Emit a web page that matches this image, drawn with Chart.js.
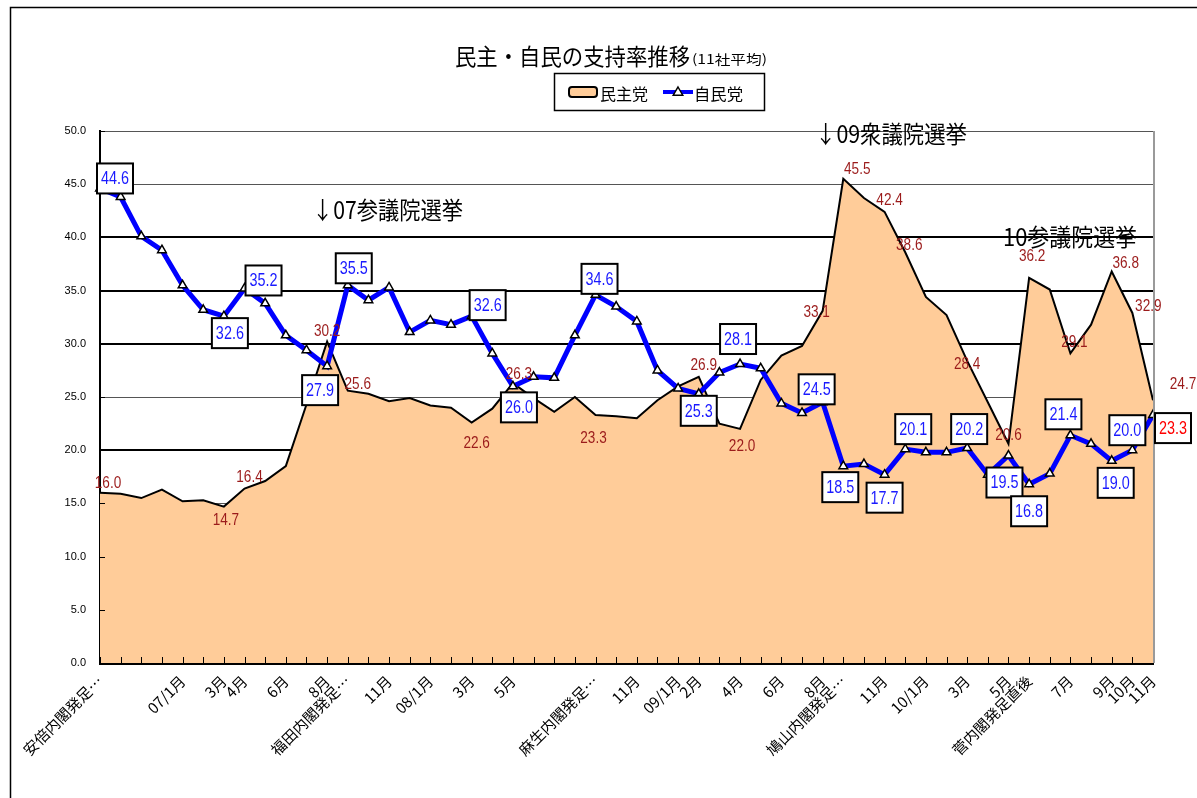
<!DOCTYPE html>
<html><head><meta charset="utf-8">
<script src="https://cdn.jsdelivr.net/npm/chart.js@4/dist/chart.umd.min.js"></script>
<style>html,body{margin:0;padding:0;background:#fff;}#wrap{width:1197px;height:798px;position:relative;}</style>
</head><body><div id="wrap"><canvas id="c" width="1197" height="798"></canvas></div>
<script>
// ---------- DATA ----------
const categories = ['安倍内閣発足…','10月','11月','12月','07/1月','2月','3月','4月','5月','6月','7月','8月',
  '福田内閣発足…','10月','11月','12月','08/1月','2月','3月','4月','5月','6月','7月','8月',
  '麻生内閣発足…','10月','11月','12月','09/1月','2月','3月','4月','5月','6月','7月','8月',
  '鳩山内閣発足…','10月','11月','12月','10/1月','2月','3月','4月','5月','菅内閣発足直後','6月','7月','8月','9月','10月','11月'];
const shownTickIndexes = [0,4,6,7,9,11,12,14,16,18,20,24,26,28,29,31,33,35,36,38,40,42,44,45,47,49,50,51];
const seriesNames = ['民主党','自民党'];
const dpjValues = [16.0,15.9,15.5,16.3,15.2,15.3,14.7,16.4,17.1,18.5,24.3,30.2,25.6,25.3,24.6,24.9,24.2,24.0,22.6,23.9,26.3,24.9,23.6,25.0,23.3,23.2,23.0,24.7,26.0,26.9,22.5,22.0,26.6,28.9,29.8,33.1,45.5,43.7,42.4,38.6,34.4,32.7,28.4,24.5,20.6,36.2,35.1,29.1,31.8,36.8,32.9,24.7];
const ldpValues = [44.6,43.8,40.1,38.8,35.5,33.2,32.6,35.2,33.8,30.8,29.4,27.9,35.5,34.1,35.3,31.1,32.2,31.8,32.6,29.1,26.0,26.9,26.8,30.8,34.6,33.5,32.1,27.5,25.8,25.3,27.3,28.1,27.7,24.4,23.5,24.5,18.5,18.7,17.7,20.1,19.8,19.8,20.2,17.7,19.5,16.8,17.8,21.4,20.6,19.0,20.0,23.3];
const yMin = 0, yMax = 50, yStep = 5;
const titleText = '民主・自民の支持率推移';
const subtitleText = '(11社平均)';
const annotationTexts = ['↓07参議院選挙','↓09衆議院選挙','10参議院選挙'];

// ---------- STYLE (label placement offsets from the point, px) ----------
const dpjLabelOffsets = {0:[8,-10],6:[2,13],7:[5,-12],11:[0,-11],12:[10,-7],18:[5,20],20:[6,-10],24:[-2,22],29:[5,-12],31:[2,16],35:[-6,0],36:[14,-11],38:[5,-13],39:[4,-8],42:[0,2],44:[0,-10],45:[3,-23],47:[4,-12],49:[14,-9],50:[16,-8],51:[30,-17]};
const ldpLabelOffsets = {0:[15,-10],6:[6,17],7:[19,-8],11:[-7,24],12:[6,-17],18:[16,-11],20:[6,21],24:[4,-16],29:[0,17],31:[-2,-25],35:[-6,-13],36:[-3,21],38:[0,23],39:[8,-20],42:[2,-19],44:[-4,27],45:[0,27],47:[-7,-21],49:[4,22],50:[-5,-20],51:[20,13]};
const annotationBoxes = [{x:312,y:210,w:151},{x:815,y:134,w:152},{x:1003,y:237,w:134}];

const JP = "'Noto Sans CJK JP','Noto Sans',sans-serif";
const NUM = "'Liberation Sans',Arial,sans-serif";

function fitText(ctx, text, x, y, w, font, color){
  ctx.save();
  ctx.font = font; ctx.fillStyle = color || '#000';
  ctx.textAlign='left'; ctx.textBaseline='middle';
  const m = ctx.measureText(text).width;
  ctx.translate(x, y); ctx.scale(w/m, 1);
  ctx.fillText(text, 0, 0);
  ctx.restore();
}
function drawNum(ctx, text, cx, cy, color, size, box){
  ctx.save();
  if (box){
    ctx.fillStyle='#fff'; ctx.fillRect(cx-18, cy-15, 36, 30);
    ctx.strokeStyle='#000'; ctx.lineWidth=2; ctx.strokeRect(cx-18, cy-15, 36, 30);
  }
  ctx.font = size+'px '+NUM;
  ctx.translate(cx, cy); ctx.scale(0.8, 1);
  ctx.fillStyle=color; ctx.textAlign='center'; ctx.textBaseline='middle';
  ctx.fillText(text, 0, 1);
  ctx.restore();
}
function triangle(ctx, x, y, r){
  ctx.beginPath();
  ctx.moveTo(x, y - r);
  ctx.lineTo(x + r*0.95, y + r*0.65);
  ctx.lineTo(x - r*0.95, y + r*0.65);
  ctx.closePath();
  ctx.fillStyle='#fff'; ctx.fill();
  ctx.strokeStyle='#000'; ctx.lineWidth=1.5; ctx.stroke();
}

const decor = {
  id:'decor',
  beforeDraw(chart){
    const ctx = chart.ctx; ctx.save(); ctx.fillStyle='#fff'; ctx.fillRect(0,0,chart.width,chart.height); ctx.restore();
  },
  afterDatasetsDraw(chart){
    const ctx = chart.ctx, a = chart.chartArea, xs = chart.scales.x, ys = chart.scales.y;
    ctx.save();
    ctx.strokeStyle='#000'; ctx.lineWidth=1;
    for (let i=0;i<categories.length;i++){
      const x = Math.round(xs.getPixelForTick(i))+0.5;
      ctx.beginPath(); ctx.moveTo(x, a.bottom-6); ctx.lineTo(x, a.bottom); ctx.stroke();
    }
    for (let v=yMin; v<=yMax; v+=yStep){
      const y = Math.round(ys.getPixelForValue(v))+0.5;
      ctx.beginPath(); ctx.moveTo(a.left, y); ctx.lineTo(a.left+5, y); ctx.stroke();
    }
    ctx.strokeStyle='#9a9a9a'; ctx.lineWidth=2;
    ctx.beginPath(); ctx.moveTo(a.right+1, a.top); ctx.lineTo(a.right+1, a.bottom); ctx.stroke();
    ctx.restore();
    const mLdp = chart.getDatasetMeta(0).data, mDpj = chart.getDatasetMeta(1).data;
    Object.keys(dpjLabelOffsets).forEach(k=>{
      const i=+k, p=mDpj[i], o=dpjLabelOffsets[k];
      drawNum(ctx, dpjValues[i].toFixed(1), p.x+o[0], p.y+o[1], '#9b1b1b', 17, false);
    });
    Object.keys(ldpLabelOffsets).forEach(k=>{
      const i=+k, p=mLdp[i], o=ldpLabelOffsets[k];
      const last = i===ldpValues.length-1;
      drawNum(ctx, ldpValues[i].toFixed(1), p.x+o[0], p.y+o[1], last?'#ff0000':'#1a1aff', 18, true);
    });
  },
  afterDraw(chart){
    const ctx = chart.ctx;
    ctx.save();
    ctx.strokeStyle='#000'; ctx.lineWidth=1.5;
    ctx.strokeRect(10.5, 7.5, 1400, 1000);
    fitText(ctx, titleText, 455, 56, 235, '23px '+JP, '#000');
    fitText(ctx, subtitleText, 692, 59, 75, '13px '+JP, '#000');
    ctx.lineWidth=1.5; ctx.strokeStyle='#000';
    ctx.strokeRect(554.5, 73.5, 210, 37);
    ctx.beginPath(); ctx.roundRect(569, 87, 28, 10, 3);
    ctx.fillStyle='#FFCC99'; ctx.fill(); ctx.lineWidth=2; ctx.stroke();
    fitText(ctx, seriesNames[0], 600, 94, 48, '16px '+JP, '#000');
    ctx.strokeStyle='#0000ff'; ctx.lineWidth=4;
    ctx.beginPath(); ctx.moveTo(663, 92); ctx.lineTo(693, 92); ctx.stroke();
    triangle(ctx, 678, 92, 5);
    fitText(ctx, seriesNames[1], 694, 94, 49, '16px '+JP, '#000');
    annotationTexts.forEach((t,i)=>{
      const b = annotationBoxes[i];
      fitText(ctx, t, b.x, b.y, b.w, '24px '+JP, '#000');
    });
    ctx.restore();
  }
};

const thickGrid = [20,30,35,40];
new Chart(document.getElementById('c').getContext('2d'), {
  type:'line',
  data:{
    labels: categories,
    datasets:[
      { label: seriesNames[1], data: ldpValues, borderColor:'#0000ff', borderWidth:5,
        pointStyle:'triangle', pointRadius:5, pointBackgroundColor:'#fff', pointBorderColor:'#000',
        pointBorderWidth:1.5, tension:0, fill:false, order:0 },
      { label: seriesNames[0], data: dpjValues, borderColor:'#000', borderWidth:2,
        backgroundColor:'#FFCC99', fill:'origin', pointRadius:0, tension:0, order:1 }
    ]
  },
  options:{
    responsive:false, animation:false, devicePixelRatio:1,
    layout:{padding:{left:0, top:131, right:44, bottom:0}},
    plugins:{legend:{display:false}, title:{display:false}, tooltip:{enabled:false}},
    scales:{
      x:{ type:'category', offset:false,
        grid:{display:false, drawTicks:false},
        border:{display:true, color:'#000', width:3},
        ticks:{autoSkip:false, minRotation:45, maxRotation:45, padding:9, color:'#000',
          font:{family:JP, size:15},
          callback:(v,i)=> shownTickIndexes.includes(i) ? categories[i] : ''},
        afterFit:s=>{ s.height = 135; } },
      y:{ min:yMin, max:yMax,
        ticks:{stepSize:yStep, padding:14, color:'#000', font:{family:NUM, size:11},
          callback:v=>Number(v).toFixed(1)},
        grid:{drawTicks:false,
          color:c=> thickGrid.includes(c.tick && c.tick.value) ? '#000' : '#555',
          lineWidth:c=> thickGrid.includes(c.tick && c.tick.value) ? 2 : 1},
        border:{display:true, color:'#000', width:2},
        afterFit:s=>{ s.width = 100; } }
    }
  },
  plugins:[decor]
});
</script></body></html>
